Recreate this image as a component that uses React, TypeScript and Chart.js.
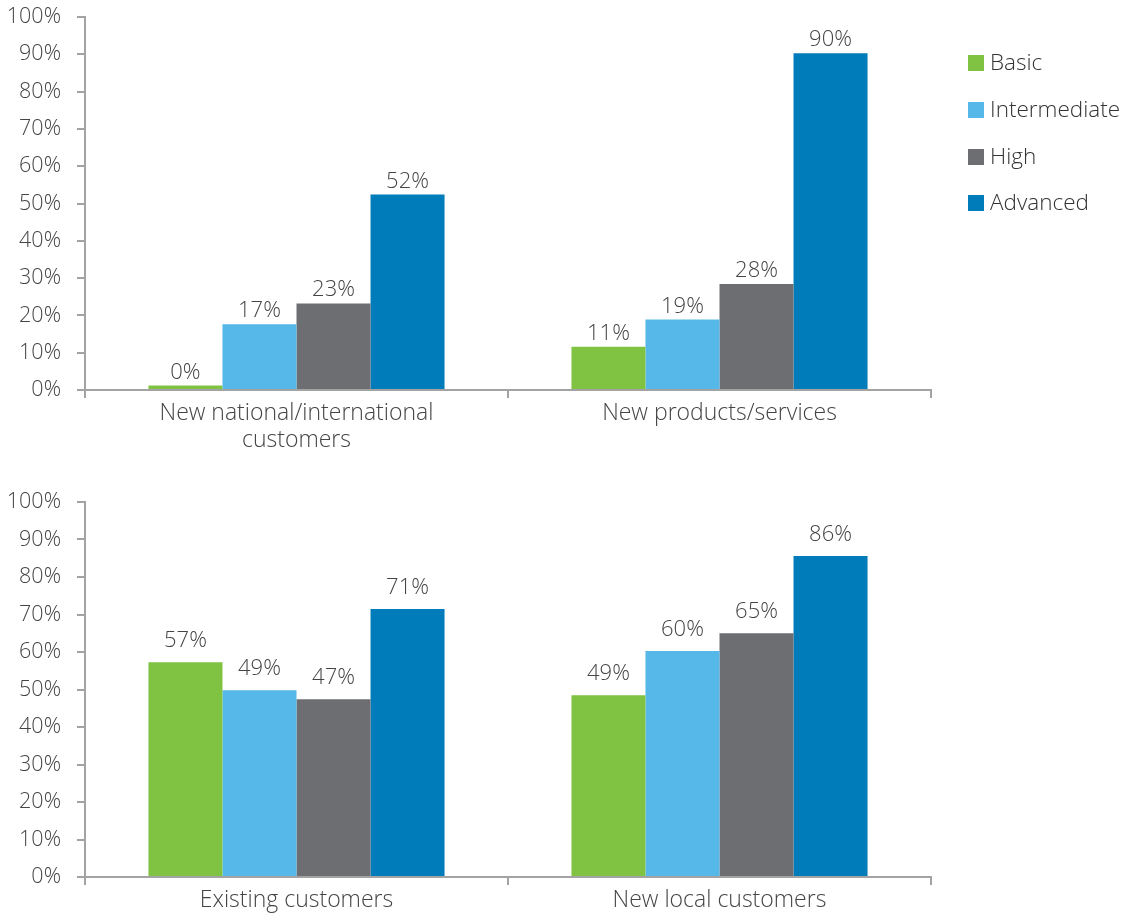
import React, { useEffect, useRef } from "react";
import { Chart, registerables } from "chart.js";

Chart.register(...registerables);

const seriesNames = ["Basic", "Intermediate", "High", "Advanced"];
const seriesColors = ["#80c242", "#55b8e8", "#6d6e72", "#007cba"];
const yTicks = [0, 10, 20, 30, 40, 50, 60, 70, 80, 90, 100];

const topCategories: (string | string[])[] = [["New national/international", "customers"], "New products/services"];
const topBasic = [1.2, 11.6];
const topIntermediate = [17.6, 18.9];
const topHigh = [23.2, 28.4];
const topAdvanced = [52.4, 90.3];
const topBasicLabels = ["0%", "11%"];
const topIntermediateLabels = ["17%", "19%"];
const topHighLabels = ["23%", "28%"];
const topAdvancedLabels = ["52%", "90%"];

const bottomCategories: (string | string[])[] = ["Existing customers", "New local customers"];
const bottomBasic = [57.3, 48.5];
const bottomIntermediate = [49.8, 60.3];
const bottomHigh = [47.4, 65.0];
const bottomAdvanced = [71.5, 85.6];
const bottomBasicLabels = ["57%", "49%"];
const bottomIntermediateLabels = ["49%", "60%"];
const bottomHighLabels = ["47%", "65%"];
const bottomAdvancedLabels = ["71%", "86%"];

const FONT = "'Open Sans', 'DejaVu Sans', sans-serif";
const TEXT = "#444444";
const AXIS = "#a3a3a3";

type Cfg = {
  categories: (string | string[])[];
  series: number[][];
  labels: string[][];
  labelGap: number;
  width: number;
  height: number;
  padTop: number;
  padRight: number;
  yWidth: number;
  xHeight: number;
  legend: boolean;
};

const valueLabelPlugin = {
  id: "valueLabels",
  afterDatasetsDraw(chart: any) {
    const ctx = chart.ctx;
    const opts = chart.options.plugins.valueLabels;
    const lbls: string[][] = opts.labels;
    ctx.save();
    ctx.font = `300 22px ${FONT}`;
    ctx.fillStyle = TEXT;
    ctx.textAlign = "center";
    ctx.textBaseline = "alphabetic";
    chart.data.datasets.forEach((_: any, di: number) => {
      const meta = chart.getDatasetMeta(di);
      meta.data.forEach((el: any, i: number) => {
        ctx.fillText(lbls[di][i], el.x, el.y - opts.gap);
      });
    });
    ctx.restore();
  },
};

const customLegendPlugin = {
  id: "customLegend",
  afterDraw(chart: any) {
    if (!chart.options.plugins.customLegend.show) return;
    const ctx = chart.ctx;
    const ys = [63, 110, 157, 203];
    ctx.save();
    ctx.font = `300 22.5px ${FONT}`;
    ctx.textBaseline = "middle";
    ctx.textAlign = "left";
    chart.data.datasets.forEach((ds: any, i: number) => {
      ctx.fillStyle = ds.backgroundColor;
      ctx.fillRect(968, ys[i] - 8, 16, 16);
      ctx.fillStyle = "#333333";
      ctx.fillText(ds.label, 990, ys[i] + 1);
    });
    ctx.restore();
  },
};

function BarPanel(props: { cfg: Cfg }) {
  const ref = useRef<HTMLCanvasElement | null>(null);
  const cfg = props.cfg;
  useEffect(() => {
    if (!ref.current) return;
    const chart = new Chart(ref.current, {
      type: "bar",
      data: {
        labels: cfg.categories,
        datasets: seriesNames.map((name, i) => ({
          label: name,
          data: cfg.series[i],
          backgroundColor: seriesColors[i],
          borderWidth: 0,
          barPercentage: 1,
          categoryPercentage: 0.7,
        })),
      },
      options: {
        responsive: false,
        animation: false,
        layout: { padding: { top: cfg.padTop, right: cfg.padRight, left: 0, bottom: 0 } },
        plugins: {
          legend: { display: false },
          tooltip: { enabled: false },
          valueLabels: { labels: cfg.labels, gap: cfg.labelGap },
          customLegend: { show: cfg.legend },
        } as any,
        scales: {
          x: {
            grid: {
              display: true,
              drawOnChartArea: false,
              drawTicks: true,
              tickLength: 8,
              color: AXIS,
              lineWidth: 2,
              offset: true,
            },
            border: { display: true, color: AXIS, width: 2 },
            ticks: {
              color: TEXT,
              font: { family: FONT, size: 23, weight: "300" as any, lineHeight: 1.18 },
              padding: 2,
              maxRotation: 0,
            },
            afterFit(scale: any) {
              scale.height = cfg.xHeight;
              scale.paddingLeft = 0;
              scale.paddingRight = 0;
            },
          },
          y: {
            min: 0,
            max: 100,
            afterBuildTicks(scale: any) {
              scale.ticks = yTicks.map((v) => ({ value: v }));
            },
            grid: {
              display: true,
              drawOnChartArea: false,
              drawTicks: true,
              tickLength: 8,
              color: AXIS,
              lineWidth: 2,
            },
            border: { display: true, color: AXIS, width: 2 },
            ticks: {
              color: TEXT,
              font: { family: FONT, size: 21.5, weight: "300" as any },
              padding: 16,
              callback: (v: any) => `${v}%`,
            },
            afterFit(scale: any) {
              scale.width = cfg.yWidth;
              scale.paddingTop = 0;
              scale.paddingBottom = 0;
            },
          },
        },
      },
      plugins: [valueLabelPlugin, customLegendPlugin],
    });
    return () => chart.destroy();
  }, []);
  return (
    <canvas
      ref={ref}
      width={cfg.width}
      height={cfg.height}
      style={{ display: "block", width: cfg.width, height: cfg.height }}
    />
  );
}

const topCfg: Cfg = {
  categories: topCategories,
  series: [topBasic, topIntermediate, topHigh, topAdvanced],
  labels: [topBasicLabels, topIntermediateLabels, topHighLabels, topAdvancedLabels],
  labelGap: 7,
  width: 1123,
  height: 480,
  padTop: 17,
  padRight: 192,
  yWidth: 85,
  xHeight: 90,
  legend: true,
};

const bottomCfg: Cfg = {
  categories: bottomCategories,
  series: [bottomBasic, bottomIntermediate, bottomHigh, bottomAdvanced],
  labels: [bottomBasicLabels, bottomIntermediateLabels, bottomHighLabels, bottomAdvancedLabels],
  labelGap: 15,
  width: 1123,
  height: 434,
  padTop: 22,
  padRight: 192,
  yWidth: 85,
  xHeight: 37,
  legend: false,
};

export default function App() {
  return (
    <div style={{ position: "absolute", left: 0, top: 0, width: 1123, height: 914, background: "#ffffff" }}>
      <BarPanel cfg={topCfg} />
      <BarPanel cfg={bottomCfg} />
    </div>
  );
}
